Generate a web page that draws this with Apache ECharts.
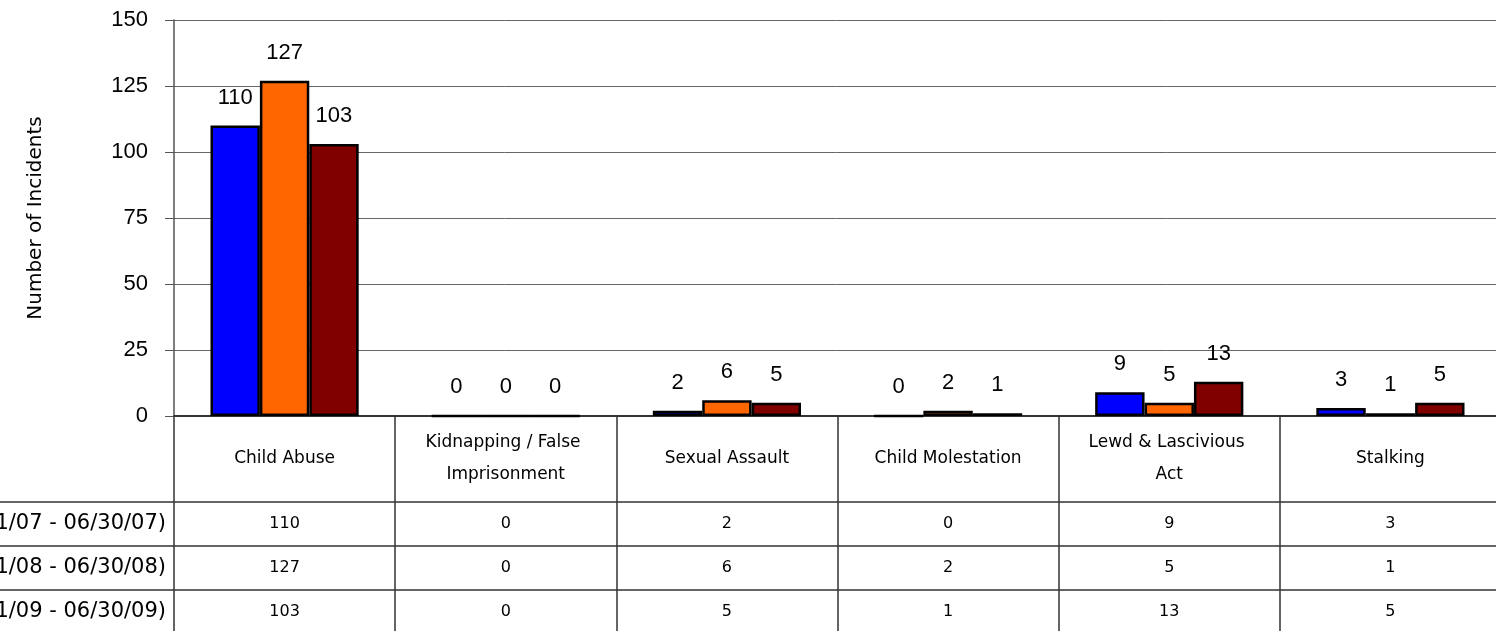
<!DOCTYPE html>
<html>
<head>
<meta charset="utf-8">
<script src="https://cdn.jsdelivr.net/npm/echarts@6/dist/echarts.min.js"></script>
<style>
  html, body { margin: 0; padding: 0; background: #fff; }
  #chart { width: 1496px; height: 631px; }
</style>
</head>
<body>
<div id="chart"></div>
<script>
// data
const categories = ['Child Abuse', 'Kidnapping / False Imprisonment', 'Sexual Assault',
    'Child Molestation', 'Lewd & Lascivious Act', 'Stalking'];
const seriesNames = ['(01/01/07 - 06/30/07)', '(01/01/08 - 06/30/08)', '(01/01/09 - 06/30/09)'];
const period2007 = [110, 0, 2, 0, 9, 3];
const period2008 = [127, 0, 6, 2, 5, 1];
const period2009 = [103, 0, 5, 1, 13, 5];
const yTicks = [0, 25, 50, 75, 100, 125, 150];

const rows = [period2007, period2008, period2009];
const colors = ['#0000ff', '#ff6600', '#800000'];
const font = 'DejaVu Sans';

const myChart = echarts.init(document.getElementById('chart'));

// table rows under the plot are extra category axes showing the values
const rowAxes = rows.map((vals, k) => ({
    type: 'category',
    data: categories,
    position: 'bottom',
    offset: 108 + k * 44,
    axisLine: { show: false },
    axisTick: { show: false },
    axisLabel: {
        interval: 0,
        margin: 0,
        verticalAlign: 'middle',
        fontFamily: font,
        fontSize: 16,
        color: '#000',
        formatter: (v, i) => String(vals[i]),
    },
    name: seriesNames[k],
    nameLocation: 'start',
    nameGap: 8,
    nameTextStyle: { fontFamily: font, fontSize: 21, color: '#000', align: 'right', verticalAlign: 'middle' },
}));

// horizontal table lines
const tableLines = [502, 546, 590].map(y => ({
    type: 'line',
    shape: { x1: 0, y1: y, x2: 1496, y2: y },
    style: { stroke: '#333', lineWidth: 1.5 },
}));

const option = {
    animation: false,
    grid: { left: 174, top: 20, right: -5, bottom: 215, outerBoundsMode: 'none', containLabel: false },
    graphic: tableLines,
    xAxis: [
        {
            type: 'category',
            data: categories,
            axisLine: { show: true, lineStyle: { color: '#333', width: 2 } },
            axisTick: { show: true, interval: 0, length: 215, lineStyle: { color: '#333', width: 1.5 } },
            axisLabel: {
                interval: 0,
                margin: 43,
                verticalAlign: 'middle',
                fontFamily: font,
                fontSize: 17,
                lineHeight: 32,
                color: '#000',
                width: 175,
                overflow: 'break',
            },
        },
        ...rowAxes,
    ],
    yAxis: {
        type: 'value',
        min: yTicks[0],
        max: yTicks[yTicks.length - 1],
        interval: 25,
        name: 'Number of Incidents',
        nameLocation: 'middle',
        nameGap: 128,
        nameTextStyle: { fontFamily: font, fontSize: 20, color: '#000' },
        axisLine: { show: true, lineStyle: { color: '#555', width: 1.5 } },
        axisTick: { show: true, length: 9, lineStyle: { color: '#555' } },
        axisLabel: { margin: 26, fontFamily: 'Liberation Sans', fontSize: 22, color: '#000' },
        splitLine: { show: true, lineStyle: { color: '#666', width: 1 } },
    },
    series: rows.map((vals, k) => ({
        name: seriesNames[k],
        type: 'bar',
        data: vals,
        barGap: '0%',
        barCategoryGap: '33%',
        itemStyle: { color: colors[k], borderColor: '#000', borderWidth: 2.5 },
        label: {
            show: true,
            position: 'top',
            distance: 17,
            fontFamily: 'Liberation Sans',
            fontSize: 22,
            color: '#000',
        },
    })),
};

myChart.setOption(option);
</script>
</body>
</html>
